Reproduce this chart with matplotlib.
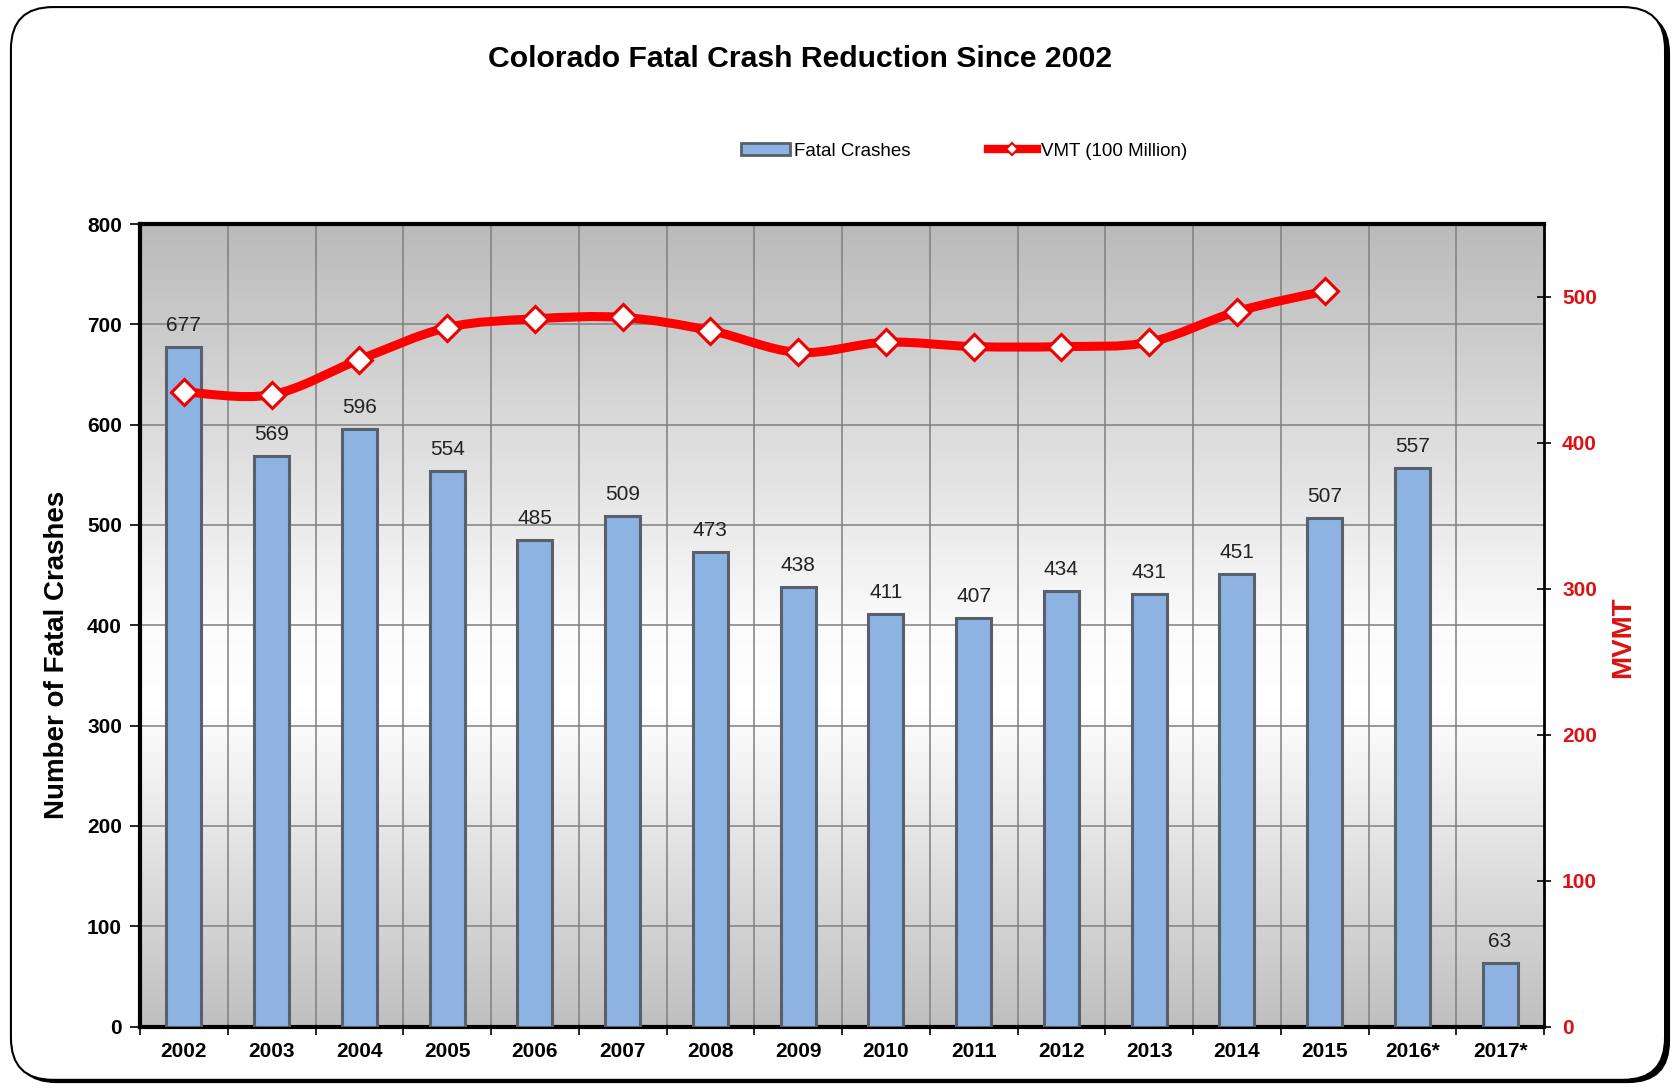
import numpy as np
import matplotlib
matplotlib.use("Agg")
import matplotlib.pyplot as plt
from matplotlib.path import Path
from matplotlib.patches import PathPatch, FancyBboxPatch, Patch
from matplotlib.lines import Line2D
from matplotlib.colors import LinearSegmentedColormap

plt.rcParams['font.family'] = ['Liberation Sans', 'DejaVu Sans']

years = ['2002', '2003', '2004', '2005', '2006', '2007', '2008', '2009',
         '2010', '2011', '2012', '2013', '2014', '2015', '2016*', '2017*']
fatal_crashes = [677, 569, 596, 554, 485, 509, 473, 438, 411, 407, 434, 431, 451, 507, 557, 63]
vmt = [435, 433, 457, 479, 485, 486, 477, 462, 469, 466, 466, 469, 490, 504]

title = 'Colorado Fatal Crash Reduction Since 2002'

fig = plt.figure(figsize=(16.81, 10.88), dpi=100)
fig.patch.set_facecolor('white')

# outer rounded frame with shadow
shadow = FancyBboxPatch((0.0085, 0.0045), 0.985, 0.985, boxstyle="round,pad=0,rounding_size=0.025",
                        transform=fig.transFigure, facecolor='black', edgecolor='black', lw=0, zorder=-2,
                        mutation_aspect=1681/1088)
fig.patches.append(shadow)
frame = FancyBboxPatch((0.0065, 0.0075), 0.984, 0.986, boxstyle="round,pad=0,rounding_size=0.025",
                       transform=fig.transFigure, facecolor='white', edgecolor='black', lw=1.5, zorder=-1,
                       mutation_aspect=1681/1088)
fig.patches.append(frame)

ax = fig.add_axes([0.0833, 0.0565, 0.8352, 0.7376])
ax.set_facecolor('none')
x = np.arange(len(years))

# gradient background
cmap = LinearSegmentedColormap.from_list('bg', [(0, '#bfbfbf'), (0.40, '#ffffff'), (0.50, '#fbfbfb'),
                                                (1, '#bababa')])
grad = np.linspace(0, 1, 256).reshape(-1, 1)
ax.imshow(grad, cmap=cmap, aspect='auto', extent=[0, 1, 0, 1], origin='lower',
          transform=ax.transAxes, zorder=0)

ax.set_xlim(-0.5, len(years) - 0.5)
ax.set_ylim(0, 800)
ax.set_yticks(range(0, 801, 100))
for v in range(100, 800, 100):
    ax.axhline(v, color='#7f7f7f', lw=1.1, zorder=1)
for b in np.arange(0.5, len(years) - 0.5, 1):
    ax.axvline(b, color='#7f7f7f', lw=1.1, zorder=1)

ax.bar(x, fatal_crashes, width=0.4, color='#8db3e2', edgecolor='#58616b', lw=2.2, zorder=3)
for xi, v in zip(x, fatal_crashes):
    ax.text(xi, v + 12, str(v), ha='center', va='bottom', fontsize=15, color='#222222', zorder=4)

ax.set_xticks(x)
ax.set_xticklabels(years, fontsize=15, fontweight='bold')
ax.set_xticks(np.arange(-0.5, len(years), 1), minor=True)
ax.tick_params(axis='x', which='major', length=0, pad=11)
ax.tick_params(axis='x', which='minor', length=6, width=1.2, direction='out')
ax.tick_params(axis='y', labelsize=15, length=7, width=1.2, direction='out', pad=6)
for lab in ax.get_yticklabels():
    lab.set_fontweight('bold')
ax.set_ylabel('Number of Fatal Crashes', fontsize=20, fontweight='bold')
ax.yaxis.set_label_coords(-0.050, 0.463)

for s in ['left', 'bottom', 'top']:
    ax.spines[s].set_linewidth(3)
    ax.spines[s].set_color('black')
ax.spines['right'].set_linewidth(2)

ax2 = ax.twinx()
ax2.set_ylim(0, 550)
ax2.set_yticks(range(0, 501, 100))
ax2.tick_params(axis='y', labelsize=15, labelcolor='#dd1111', length=10, width=1.2,
                direction='inout', pad=8)
for lab in ax2.get_yticklabels():
    lab.set_fontweight('bold')
ax2.set_ylabel('MVMT', fontsize=20, fontweight='bold', color='#dd1111')
ax2.yaxis.set_label_coords(1.047, 0.485)
for s in ['left', 'bottom', 'top', 'right']:
    ax2.spines[s].set_visible(False)

# smooth line (Catmull-Rom style bezier through data points)
xv = np.arange(len(vmt), dtype=float)
yv = np.array(vmt, dtype=float)
pts = np.column_stack([xv, yv])
verts = [pts[0]]
codes = [Path.MOVETO]
n = len(pts)
for i in range(n - 1):
    p0 = pts[i - 1] if i > 0 else pts[i]
    p1 = pts[i]
    p2 = pts[i + 1]
    p3 = pts[i + 2] if i + 2 < n else pts[i + 1]
    c1 = p1 + (p2 - p0) / 6.0
    c2 = p2 - (p3 - p1) / 6.0
    verts += [c1, c2, p2]
    codes += [Path.CURVE4] * 3
ax2.add_patch(PathPatch(Path(verts, codes), facecolor='none', edgecolor='#ff0000', lw=6.5,
                        capstyle='round', joinstyle='round', zorder=5))
ax2.plot(xv, yv, linestyle='none', marker='D', markersize=13, markerfacecolor='white',
         markeredgecolor='#ee0000', markeredgewidth=2.2, zorder=6)

fig.text(0.476, 0.946, title, ha='center', va='center', fontsize=21.7, fontweight='bold')

handles = [Patch(facecolor='#8db3e2', edgecolor='#58616b', lw=2),
           Line2D([], [], color='#ff0000', lw=6, marker='D', markersize=6,
                  markerfacecolor='white', markeredgecolor='#ee0000', markeredgewidth=1.5)]
fig.legend(handles, ['Fatal Crashes', 'VMT (100 Million)'], loc='center', bbox_to_anchor=(0.5735, 0.861),
           ncol=2, frameon=False, fontsize=13.5, handlelength=2.6, handleheight=0.6,
           columnspacing=4.15, handletextpad=0.2)

fig.savefig('out.png', dpi=100)
